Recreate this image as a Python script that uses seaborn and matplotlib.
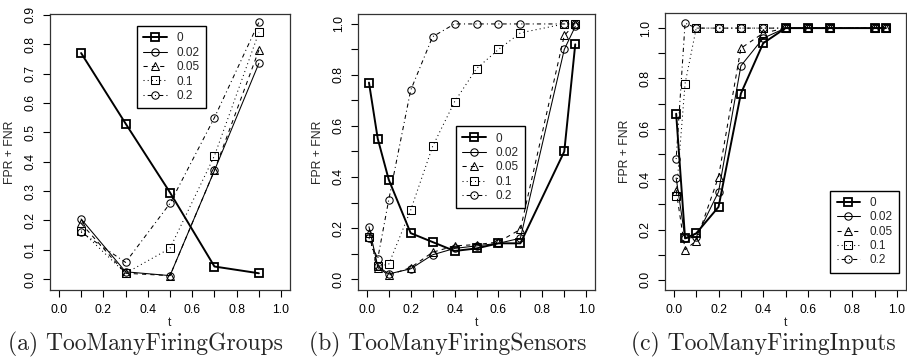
import numpy as np
import pandas as pd
import matplotlib
matplotlib.use("Agg")
import matplotlib.pyplot as plt
import seaborn as sns
from matplotlib.lines import Line2D

sns.set_style("ticks")
plt.rcParams['font.family'] = ['Liberation Sans', 'DejaVu Sans']

# ---------------- data ----------------
series_names = ["0", "0.02", "0.05", "0.1", "0.2"]

t_groups = [0.1, 0.3, 0.5, 0.7, 0.9]
groups_0 = [0.77, 0.53, 0.295, 0.043, 0.02]
groups_002 = [0.205, 0.025, 0.012, 0.37, 0.735]
groups_005 = [0.19, 0.02, 0.012, 0.37, 0.78]
groups_01 = [0.165, 0.02, 0.105, 0.42, 0.84]
groups_02 = [0.16, 0.057, 0.258, 0.55, 0.875]

t_sensors = [0.01, 0.05, 0.1, 0.2, 0.3, 0.4, 0.5, 0.6, 0.7, 0.9, 0.95]
sensors_0 = [0.77, 0.55, 0.39, 0.18, 0.145, 0.11, 0.12, 0.14, 0.14, 0.50, 0.92]
sensors_002 = [0.205, 0.05, 0.02, 0.04, 0.095, 0.12, 0.13, 0.14, 0.16, 0.90, 0.99]
sensors_005 = [0.18, 0.045, 0.015, 0.045, 0.105, 0.13, 0.135, 0.145, 0.195, 0.955, 1.0]
sensors_01 = [0.165, 0.05, 0.058, 0.27, 0.52, 0.695, 0.825, 0.90, 0.965, 1.0, 1.0]
sensors_02 = [0.16, 0.08, 0.31, 0.74, 0.95, 1.0, 1.0, 1.0, 1.0, 1.0, 1.0]

t_inputs = [0.01, 0.05, 0.1, 0.2, 0.3, 0.4, 0.5, 0.6, 0.7, 0.9, 0.95]
inputs_0 = [0.66, 0.165, 0.185, 0.29, 0.74, 0.94, 1.0, 1.0, 1.0, 1.0, 1.0]
inputs_002 = [0.405, 0.165, 0.17, 0.35, 0.85, 0.96, 1.0, 1.0, 1.0, 1.0, 1.0]
inputs_005 = [0.355, 0.12, 0.155, 0.41, 0.92, 0.98, 1.0, 1.0, 1.0, 1.0, 1.0]
inputs_01 = [0.335, 0.78, 1.0, 1.0, 1.0, 1.0, 1.0, 1.0, 1.0, 1.0, 1.0]
inputs_02 = [0.48, 1.02, 1.0, 1.0, 1.0, 1.0, 1.0, 1.0, 1.0, 1.0, 1.0]

captions = ["(a) TooManyFiringGroups", "(b) TooManyFiringSensors", "(c) TooManyFiringInputs"]
x_ticks = [0.0, 0.1, 0.2, 0.3, 0.4, 0.5, 0.6, 0.7, 0.8, 0.9, 1.0]
x_ticklabels = ["0.0", "", "0.2", "", "0.4", "", "0.6", "", "0.8", "", "1.0"]
y_ticks_a = [0.0, 0.1, 0.2, 0.3, 0.4, 0.5, 0.6, 0.7, 0.8, 0.9]
y_ticklabels_a = ["0.0", "0.1", "0.2", "0.3", "0.4", "0.5", "0.6", "0.7", "0.8", "0.9"]
y_ticks_bc = [0.0, 0.1, 0.2, 0.3, 0.4, 0.5, 0.6, 0.7, 0.8, 0.9, 1.0]
y_ticklabels_bc = ["0.0", "", "0.2", "", "0.4", "", "0.6", "", "0.8", "", "1.0"]

# ---------------- styles ----------------
styles = {
    "0":    dict(marker="s", linestyle="-", lw=1.4, mew=1.3, ms=5.3),
    "0.02": dict(marker="o", linestyle="-", lw=0.75, mew=0.75, ms=5.3),
    "0.05": dict(marker="^", linestyle=(0, (4, 4)), lw=0.75, mew=0.75, ms=5.8),
    "0.1":  dict(marker="s", linestyle=(0, (1, 3)), lw=0.75, mew=0.75, ms=5.3),
    "0.2":  dict(marker="o", linestyle=(0, (1, 3, 4, 3)), lw=0.75, mew=0.75, ms=5.3),
}

W, H = 907, 360
fig = plt.figure(figsize=(W / 100, H / 100), dpi=100)

def px_axes(left, right, top, bottom):
    return fig.add_axes([left / W, (H - bottom) / H, (right - left) / W, (bottom - top) / H])

panels = [
    dict(box=(50, 290, 14, 290), t=t_groups,
         ys=[groups_0, groups_002, groups_005, groups_01, groups_02],
         ylim=(-0.037, 0.903), yt=y_ticks_a, ytl=y_ticklabels_a,
         leg=(0.3625, 0.9565), cap_x=145),
    dict(box=(358, 595, 14, 290), t=t_sensors,
         ys=[sensors_0, sensors_002, sensors_005, sensors_01, sensors_02],
         ylim=(-0.043, 1.039), yt=y_ticks_bc, ytl=y_ticklabels_bc,
         leg=(0.4135, 0.594), cap_x=448),
    dict(box=(665, 906, 13, 290), t=t_inputs,
         ys=[inputs_0, inputs_002, inputs_005, inputs_01, inputs_02],
         ylim=(-0.04, 1.06), yt=y_ticks_bc, ytl=y_ticklabels_bc,
         leg=(0.685, 0.359), cap_x=763),
]

for p, cap in zip(panels, captions):
    ax = px_axes(*p["box"])
    for name, ys in zip(series_names, p["ys"]):
        st = styles[name]
        df = pd.DataFrame({"t": p["t"], "v": ys})
        sns.lineplot(data=df, x="t", y="v", ax=ax, color="black", sort=False,
                     errorbar=None, marker=st["marker"], linestyle=st["linestyle"],
                     linewidth=st["lw"], markersize=st["ms"],
                     markerfacecolor="none", markeredgecolor="black",
                     markeredgewidth=st["mew"])
    ax.set_xlim(-0.04, 1.04)
    ax.set_ylim(*p["ylim"])
    ax.set_xticks(x_ticks)
    ax.set_xticklabels(x_ticklabels)
    ax.set_yticks(p["yt"])
    ax.set_yticklabels(p["ytl"], rotation=90, va="center")
    ax.tick_params(axis="both", direction="out", length=5, width=0.8,
                   color="black", labelsize=8.8, labelcolor="black")
    ax.tick_params(axis="x", pad=5.0)
    ax.tick_params(axis="y", pad=4.5)
    for s in ax.spines.values():
        s.set_visible(True)
        s.set_color("#333333")
        s.set_linewidth(0.9)
    ax.set_xlabel("t", fontsize=8.8, labelpad=0.5)
    ax.set_ylabel("FPR + FNR", fontsize=8.8, labelpad=6)

    handles = []
    for name in series_names:
        st = styles[name]
        handles.append(Line2D([], [], color="black", marker=st["marker"],
                              linestyle=st["linestyle"], linewidth=st["lw"],
                              markersize=st["ms"], markerfacecolor="none",
                              markeredgecolor="black", markeredgewidth=st["mew"]))
    leg = ax.legend(handles, series_names, loc="upper left", bbox_to_anchor=p["leg"],
                    frameon=True, fancybox=False, edgecolor="black", framealpha=1,
                    fontsize=8.5, borderpad=0.55, labelspacing=0.2, handlelength=2.0,
                    handletextpad=0.8, borderaxespad=0, numpoints=1)
    leg.get_frame().set_linewidth(1.0)

    fig.text(p["cap_x"] / W, (H - 344) / H, cap, family="cmr10", fontsize=17,
             ha="center", va="center")

fig.savefig("out.png", dpi=100)
